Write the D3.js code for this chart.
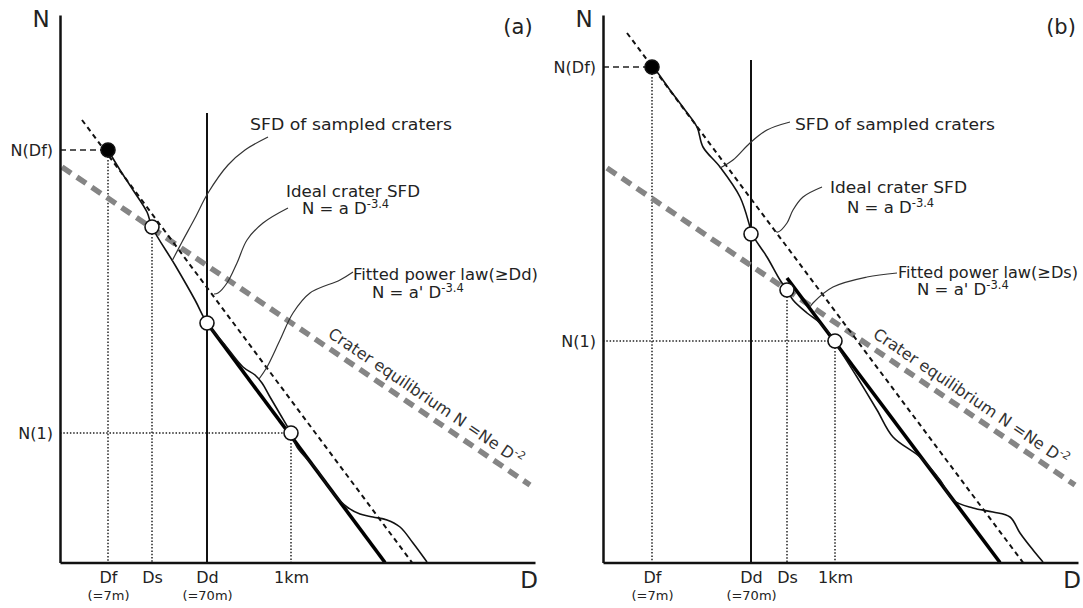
<!DOCTYPE html>
<html>
<head>
<meta charset="utf-8">
<script src="https://cdn.jsdelivr.net/npm/d3@7"></script>
<style>
  body { margin: 0; background: #fff; }
  svg { display: block; font-family: "DejaVu Sans", sans-serif; }
  .axis path { stroke: #111; stroke-width: 2.5; }
  .axis text { fill: #222; font-size: 16px; font-family: "DejaVu Sans", sans-serif; }
  .axis .note { font-size: 13px; }
  .guide-dot { stroke: #222; stroke-width: 1.5; stroke-dasharray: 1.5 1.8; }
  .guide-dash { stroke: #222; stroke-width: 1.5; stroke-dasharray: 6 4; }
  .dd-line { stroke: #111; stroke-width: 2; }
  .equilibrium { fill: none; stroke: #858585; stroke-width: 5.5; stroke-dasharray: 11 7; }
  .ideal { fill: none; stroke: #111; stroke-width: 2; stroke-dasharray: 5 4; }
  .fitted { fill: none; stroke: #000; stroke-width: 3.6; }
  .sfd { fill: none; stroke: #111; stroke-width: 1.6; }
  .leader { fill: none; stroke: #333; stroke-width: 1.2; }
  .label { fill: #222; font-size: 16.5px; }
  .eq-label { fill: #333; font-size: 16px; }
  .big { fill: #222; font-size: 23px; }
  .panel-name { fill: #222; font-size: 21px; }
</style>
</head>
<body>
<div id="chart"></div>
<script>

// axis labels
const dNotes = {"Df": "(=7m)", "Dd": "(=70m)"};
const nTickFor = {"Df": "N(Df)", "1km": "N(1)"};

// ---- panel (a) -- x = log D, y = log N (arbitrary schematic units)
const markersA = [["Df", 4.8, 41.25], ["Ds", 9.2, 33.55], ["Dd", 14.7, 23.95], ["1km", 23.1, 12.95]];
const ddTopA = 44.95;
const idealA = [[2.2, 44.25], [35.2, 0]];
const fittedA = [[14.7, 23.95], [32.5, 0]];
const equilibriumA = [[0.2, 39.55], [47.0, 7.75]];
const sfdA = [
  [4.8, 41.25], [6.0, 39.25], [7.3, 37.25], [8.7, 35.05], [9.2, 33.55], [11.5, 29.75],
  [13.5, 26.25], [14.7, 23.95], [16.5, 21.75], [18.3, 19.55], [19.5, 18.75], [20.2, 17.95],
  [21.0, 16.55], [22.0, 14.85], [23.1, 12.95], [23.7, 11.55], [25.7, 9.25], [27.3, 6.95],
  [28.7, 5.55], [30.0, 4.85], [31.3, 4.55], [32.7, 4.25], [34.0, 3.55], [35.3, 1.95], [36.7, 0.05]
];
const leaderSfdA = [[20.8, 42.55], [18.5, 41.25], [16.8, 39.75], [14.8, 36.95], [13.5, 34.45], [12.2, 32.05], [11.2, 30.15]];
const leaderIdealA = [[22.8, 35.45], [20.3, 33.95], [18.7, 32.25], [17.7, 29.95], [16.7, 27.95], [15.8, 26.95], [15.4, 26.85]];
const leaderFittedA = [[29.3, 29.05], [28.0, 28.25], [25.0, 26.95], [23.3, 24.95], [22.0, 22.25], [20.7, 19.55], [19.9, 18.35]];

// ---- panel (b)
const markersB = [["Df", 4.9, 49.55], ["Dd", 14.8, 32.85], ["Ds", 18.4, 27.25], ["1km", 23.2, 22.15]];
const ddTopB = 50.25;
const idealB = [[2.4, 52.95], [42.0, 0]];
const fittedB = [[18.4, 28.45], [39.7, 0]];
const equilibriumB = [[0.4, 39.45], [47.2, 7.75]];
const sfdB = [
  [4.9, 49.55], [5.4, 49.05], [6.7, 47.25], [8.2, 45.25], [9.4, 43.55], [10.0, 41.55], [11.7, 39.55],
  [13.7, 36.55], [14.7, 33.55], [14.9, 32.85], [16.4, 30.55], [17.7, 28.25], [18.4, 27.25],
  [19.0, 26.25], [20.4, 24.95], [21.7, 23.95], [23.2, 22.15], [23.4, 21.75], [25.4, 18.55],
  [27.4, 15.25], [29.0, 12.55], [31.7, 10.55], [33.7, 8.25], [35.0, 6.25], [37.0, 5.45],
  [39.0, 5.05], [40.7, 4.55], [41.7, 2.95], [43.0, 1.25], [44.0, 0.05]
];
const leaderSfdB = [[18.7, 44.05], [16.4, 43.25], [14.7, 41.95], [13.0, 40.25], [11.7, 39.45]];
const leaderIdealB = [[21.9, 37.55], [20.0, 36.55], [19.0, 35.25], [18.4, 33.95], [17.5, 33.05], [17.2, 33.15]];
const leaderFittedB = [[29.4, 28.95], [26.4, 28.55], [23.0, 27.55], [21.0, 25.95], [20.7, 25.55]];

// label placement (in data units) and label widths (px)
const layoutA = {
  left: 60, name: "(a)", fittedText: "Fitted power law(\u2265Dd)",
  sfdLabel: [19.0, 43.25], idealLabel: [[22.6, 36.55], [24.2, 34.85]],
  fittedLabel: [[29.3, 28.25], [31.2, 26.45]], eqLabelX: 26.2,
  widths: [202, 134, 185]
};
const layoutB = {
  left: 603, name: "(b)", fittedText: "Fitted power law(\u2265Ds)",
  sfdLabel: [19.2, 43.25], idealLabel: [[22.7, 36.95], [24.4, 34.95]],
  fittedLabel: [[29.5, 28.45], [31.4, 26.75]], eqLabelX: 26.4,
  widths: [200, 137, 180]
};


const svg = d3.select("#chart").append("svg")
  .attr("width", 1083)
  .attr("height", 608);

const panelTop = 15;

drawPanel(
  {markers: markersA, ddTop: ddTopA, ideal: idealA, fitted: fittedA, equilibrium: equilibriumA,
   sfd: sfdA, leaders: [leaderSfdA, leaderIdealA, leaderFittedA]},
  layoutA);
drawPanel(
  {markers: markersB, ddTop: ddTopB, ideal: idealB, fitted: fittedB, equilibrium: equilibriumB,
   sfd: sfdB, leaders: [leaderSfdB, leaderIdealB, leaderFittedB]},
  layoutB);


function drawPanel(p, lay) {
  const g = svg.append("g").attr("transform", `translate(${lay.left},${panelTop})`);

  const x = d3.scaleLinear().domain([0, 47.5]).range([0, 475]);
  const y = d3.scaleLinear().domain([0, 54.75]).range([547.5, 0]);

  const straight = d3.line().x(d => x(d[0])).y(d => y(d[1]));
  const smooth = d3.line().x(d => x(d[0])).y(d => y(d[1])).curve(d3.curveCatmullRom.alpha(0.5));

  const m = {};
  p.markers.forEach(d => { m[d[0]] = {x: d[1], y: d[2]}; });

  // guide lines
  g.append("line")
    .attr("class", "guide-dash")
    .attr("x1", x(0)).attr("x2", x(m.Df.x))
    .attr("y1", y(m.Df.y)).attr("y2", y(m.Df.y));

  g.append("line")
    .attr("class", "guide-dot")
    .attr("x1", x(0)).attr("x2", x(m["1km"].x))
    .attr("y1", y(m["1km"].y)).attr("y2", y(m["1km"].y));

  ["Df", "Ds", "1km"].forEach(k => {
    g.append("line")
      .attr("class", "guide-dot")
      .attr("x1", x(m[k].x)).attr("x2", x(m[k].x))
      .attr("y1", y(m[k].y)).attr("y2", y(0));
  });

  g.append("line")
    .attr("class", "dd-line")
    .attr("x1", x(m.Dd.x)).attr("x2", x(m.Dd.x))
    .attr("y1", y(p.ddTop)).attr("y2", y(0));

  // lines
  g.append("path").datum(p.equilibrium).attr("class", "equilibrium").attr("d", straight);
  g.append("path").datum(p.ideal).attr("class", "ideal").attr("d", straight);
  g.append("path").datum(p.fitted).attr("class", "fitted").attr("d", straight);
  g.append("path").datum(p.sfd).attr("class", "sfd").attr("d", smooth);

  p.leaders.forEach(l => {
    g.append("path").datum(l).attr("class", "leader").attr("d", smooth);
  });

  // markers
  g.selectAll(".marker")
    .data(p.markers)
    .join("circle")
      .attr("class", "marker")
      .attr("cx", d => x(d[1]))
      .attr("cy", d => y(d[2]))
      .attr("r", 7)
      .attr("fill", d => d[0] === "Df" ? "#000" : "#fff")
      .attr("stroke", "#111")
      .attr("stroke-width", 1.6);

  // axes
  const xAxis = d3.axisBottom(x)
    .tickValues(p.markers.map(d => d[1]))
    .tickFormat((d, i) => p.markers[i][0])
    .tickSize(0)
    .tickSizeOuter(0)
    .tickPadding(9);

  const gx = g.append("g")
    .attr("class", "axis")
    .attr("transform", `translate(0,${y(0)})`)
    .call(xAxis);

  gx.selectAll(".tick").each(function(d, i) {
    const note = dNotes[p.markers[i][0]];
    if (note) {
      d3.select(this).append("text")
        .attr("class", "note")
        .attr("y", 37.5)
        .attr("text-anchor", "middle")
        .text(note);
    }
  });

  const yMarks = p.markers.filter(d => nTickFor[d[0]]);
  const yAxis = d3.axisLeft(y)
    .tickValues(yMarks.map(d => d[2]))
    .tickFormat((d, i) => nTickFor[yMarks[i][0]])
    .tickSize(0)
    .tickSizeOuter(0)
    .tickPadding(7);

  g.append("g")
    .attr("class", "axis")
    .call(yAxis);

  g.selectAll(".axis .domain").attr("stroke", "#111");

  // big axis letters and panel name
  g.append("text").attr("class", "big").attr("x", -19).attr("y", 12)
    .attr("text-anchor", "middle").text("N");
  g.append("text").attr("class", "big").attr("x", x.range()[1] - 6).attr("y", y(0) + 25.5)
    .attr("text-anchor", "middle").text("D");
  g.append("text").attr("class", "panel-name").attr("x", 458).attr("y", 19)
    .attr("text-anchor", "middle").text(lay.name);

  // annotations
  addLabel(g, x(lay.sfdLabel[0]), y(lay.sfdLabel[1]), "SFD of sampled craters", null, lay.widths[0]);
  addLabel(g, x(lay.idealLabel[0][0]), y(lay.idealLabel[0][1]), "Ideal crater SFD", null, lay.widths[1]);
  addLabel(g, x(lay.idealLabel[1][0]), y(lay.idealLabel[1][1]), "N = a D", "-3.4");
  addLabel(g, x(lay.fittedLabel[0][0]), y(lay.fittedLabel[0][1]), lay.fittedText, null, lay.widths[2]);
  addLabel(g, x(lay.fittedLabel[1][0]), y(lay.fittedLabel[1][1]), "N = a' D", "-3.4");

  // equilibrium label, rotated along the gray line
  const e0 = p.equilibrium[0], e1 = p.equilibrium[1];
  const angle = Math.atan2(y(e1[1]) - y(e0[1]), x(e1[0]) - x(e0[0])) * 180 / Math.PI;
  const t = (lay.eqLabelX - e0[0]) / (e1[0] - e0[0]);
  const eqY = e0[1] + t * (e1[1] - e0[1]);
  const eqText = g.append("text")
    .attr("class", "eq-label")
    .attr("transform", `translate(${x(lay.eqLabelX)},${y(eqY)}) rotate(${angle}) translate(0,-9)`);
  eqText.append("tspan").text("Crater equilibrium N =Ne D");
  eqText.append("tspan").attr("font-size", 11).attr("dy", -7).text("-2");
}

function addLabel(g, xPos, yPos, main, sup, width) {
  const txt = g.append("text")
    .attr("class", "label")
    .attr("x", xPos)
    .attr("y", yPos);
  if (width) {
    txt.attr("textLength", width).attr("lengthAdjust", "spacingAndGlyphs");
  }
  txt.append("tspan").text(main);
  if (sup) {
    txt.append("tspan").attr("font-size", 11.5).attr("dy", -6).text(sup);
  }
}

</script>
</body>
</html>
